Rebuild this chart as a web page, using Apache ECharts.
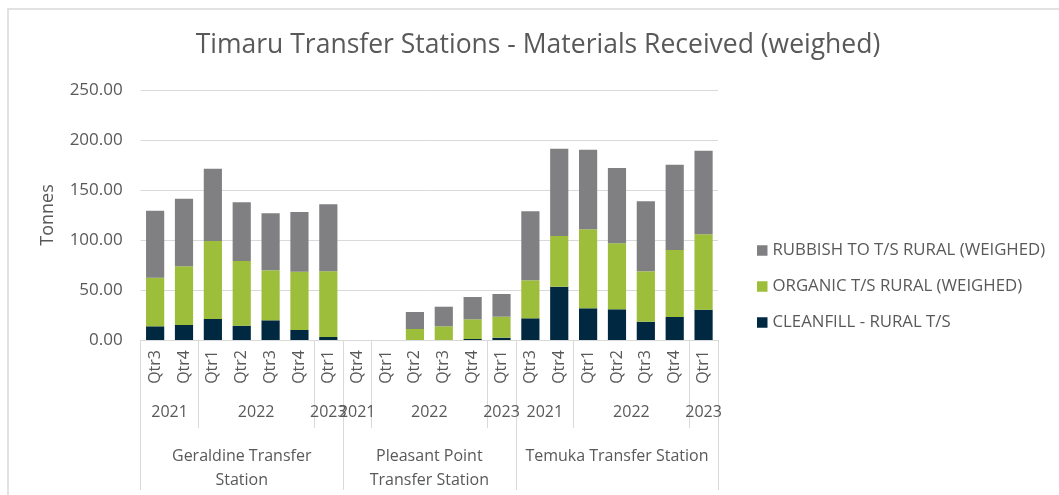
<!DOCTYPE html>
<html><head><meta charset="utf-8">
<script src="https://cdn.jsdelivr.net/npm/echarts@6/dist/echarts.min.js"></script>
<style>html,body{margin:0;padding:0;background:#fff}#c{width:1059px;height:495px}</style>
</head><body><div id="c"></div>
<script>
const titleText = 'Timaru Transfer Stations - Materials Received (weighed)';
const yAxisName = 'Tonnes';
const quarters = ['Qtr3','Qtr4','Qtr1','Qtr2','Qtr3','Qtr4','Qtr1',
                  'Qtr4','Qtr1','Qtr2','Qtr3','Qtr4','Qtr1',
                  'Qtr3','Qtr4','Qtr1','Qtr2','Qtr3','Qtr4','Qtr1'];
const years = ['2021','2021','2022','2022','2022','2022','2023',
               '2021','2022','2022','2022','2022','2023',
               '2021','2021','2022','2022','2022','2022','2023'];
const G = 'Geraldine Transfer\nStation', P = 'Pleasant Point\nTransfer Station', T = 'Temuka Transfer Station';
const stations = [G,G,G,G,G,G,G, P,P,P,P,P,P, T,T,T,T,T,T,T];
const seriesNames = ['CLEANFILL - RURAL T/S', 'ORGANIC T/S RURAL (WEIGHED)', 'RUBBISH TO T/S RURAL (WEIGHED)'];
const cleanfill = [13.7, 15.0, 21.0, 14.3, 19.7, 10.0, 3.0,
                   0, 0, 0, 0, 1.0, 2.3,
                   21.7, 53.3, 31.7, 30.7, 18.3, 23.0, 30.3];
const organic = [48.6, 58.7, 78.0, 64.7, 50.0, 58.3, 65.7,
                 0, 0, 11.0, 13.7, 19.7, 21.0,
                 38.0, 50.7, 79.0, 66.0, 50.4, 67.0, 75.4];
const rubbish = [67.0, 67.6, 72.3, 58.7, 57.0, 59.7, 67.0,
                 0, 0, 17.0, 19.6, 22.3, 22.7,
                 69.0, 87.3, 79.6, 75.3, 70.0, 85.3, 83.6];
const yMin = 0, yMax = 250, yStep = 50;

const n = quarters.length;
function makeGroups(keyFn, labelFn) {
  const res = []; let s = 0;
  for (let i = 1; i <= n; i++) {
    if (i === n || keyFn(i) !== keyFn(s)) { res.push({start: s, end: i - 1, label: labelFn(s)}); s = i; }
  }
  return res;
}
const yearGroups = makeGroups(i => stations[i] + '|' + years[i], i => years[i]);
const stationGroups = makeGroups(i => stations[i], i => stations[i]);
function levelAxis(groups) {
  const labelAt = {}, bounds = new Set();
  groups.forEach(g => { labelAt[g.start + g.end + 1] = g.label; bounds.add(2 * g.start); bounds.add(2 * (g.end + 1)); });
  const data = []; for (let j = 0; j <= 2 * n; j++) data.push(String(j));
  return {labelAt, bounds, data};
}
const yl = levelAxis(yearGroups), sl = levelAxis(stationGroups);

const FONT = 'Open Sans';
const TXT = '#595959', LINE = '#d9d9d9';
const colors = ['#002841', '#9DBE3A', '#808083'];

const chart = echarts.init(document.getElementById('c'), null, {renderer: 'canvas'});
chart.setOption({
  animation: false,
  backgroundColor: '#fff',
  title: {text: titleText, left: 533, top: 27, textAlign: 'center',
    textStyle: {fontFamily: FONT, fontSize: 26.5, fontWeight: 'normal', color: TXT}},
  legend: {orient: 'vertical', left: 752, top: 236.5, itemWidth: 10.5, itemHeight: 10.5, itemGap: 18,
    icon: 'rect', data: [seriesNames[2], seriesNames[1], seriesNames[0]],
    textStyle: {fontFamily: FONT, fontSize: 16.8, color: TXT, lineHeight: 18}},
  grid: {left: 140.7, right: 341, top: 90, bottom: 155, containLabel: false, outerBoundsMode: 'none'},
  graphic: [{type: 'rect', shape: {x: 8, y: 9, width: 1100, height: 600}, style: {fill: 'none', stroke: LINE, lineWidth: 1.5}, silent: true}],
  yAxis: {type: 'value', min: yMin, max: yMax, interval: yStep,
    name: yAxisName, nameLocation: 'middle', nameGap: 84, nameRotate: 90,
    nameTextStyle: {fontFamily: FONT, fontSize: 18, color: TXT},
    axisLine: {show: false}, axisTick: {show: false},
    axisLabel: {fontFamily: FONT, fontSize: 17, color: TXT, margin: 18, formatter: v => v.toFixed(2)},
    splitLine: {lineStyle: {color: LINE, width: 1}}},
  xAxis: [
    {type: 'category', data: quarters, position: 'bottom', offset: 0,
      axisLine: {show: true, lineStyle: {color: LINE, width: 1}},
      axisTick: {show: false},
      axisLabel: {interval: 0, rotate: 90, margin: 10, fontFamily: FONT, fontSize: 16, color: TXT}},
    {type: 'category', data: yl.data, boundaryGap: false, position: 'bottom', offset: 0, silent: true,
      axisLine: {show: false},
      axisTick: {show: true, length: 88, interval: (i) => yl.bounds.has(i), lineStyle: {color: LINE, width: 1}},
      axisLabel: {interval: 0, margin: 64, fontFamily: FONT, fontSize: 16, color: TXT,
        formatter: (v, i) => yl.labelAt[i] || ''}},
    {type: 'category', data: sl.data, boundaryGap: false, position: 'bottom', offset: 0, silent: true,
      axisLine: {show: false},
      axisTick: {show: true, length: 150, interval: (i) => sl.bounds.has(i), lineStyle: {color: LINE, width: 1}},
      axisLabel: {interval: 0, margin: 104, fontFamily: FONT, fontSize: 16, lineHeight: 24, color: TXT,
        formatter: (v, i) => sl.labelAt[i] || ''}}
  ],
  series: [
    {name: seriesNames[0], type: 'bar', stack: 'total', data: cleanfill, barWidth: '63%', itemStyle: {color: colors[0]}},
    {name: seriesNames[1], type: 'bar', stack: 'total', data: organic, barWidth: '63%', itemStyle: {color: colors[1]}},
    {name: seriesNames[2], type: 'bar', stack: 'total', data: rubbish, barWidth: '63%', itemStyle: {color: colors[2]}}
  ]
});
</script></body></html>
